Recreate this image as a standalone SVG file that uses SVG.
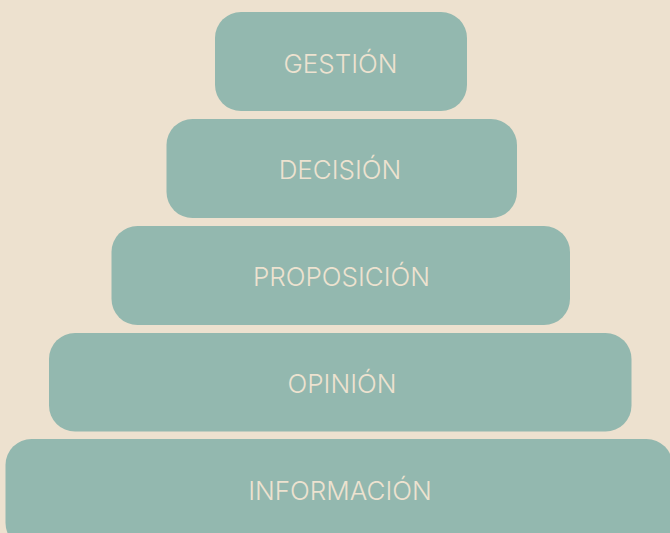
<svg xmlns="http://www.w3.org/2000/svg" width="670" height="533" viewBox="0 0 670 533">
<style>
.box{fill:#93B8AF}
.lbl{font-family:Inter,Roboto,"Liberation Sans",sans-serif;font-weight:300;font-size:26px;fill:#EDE2D0;text-anchor:middle}
</style>
<rect width="670" height="533" fill="#EDE1CF"/>
<g id="connectors"/>
<g id="gestion"><rect class="box" x="215" y="12" width="252" height="99" rx="26"/><text class="lbl" x="340.5" y="72.5">GESTIÓN</text></g>
<g id="decision"><rect class="box" x="166.5" y="119" width="350.5" height="99" rx="26"/><text class="lbl" x="340" y="178.5">DECISIÓN</text></g>
<g id="proposicion"><rect class="box" x="111.5" y="226" width="458.5" height="99" rx="26"/><text class="lbl" x="341.5" y="286">PROPOSICIÓN</text></g>
<g id="opinion"><rect class="box" x="49" y="333" width="582.5" height="98.5" rx="26"/><text class="lbl" x="342" y="393">OPINIÓN</text></g>
<g id="informacion"><rect class="box" x="5.5" y="439" width="667" height="110" rx="26"/><text class="lbl" x="340" y="500">INFORMACIÓN</text></g>
</svg>
